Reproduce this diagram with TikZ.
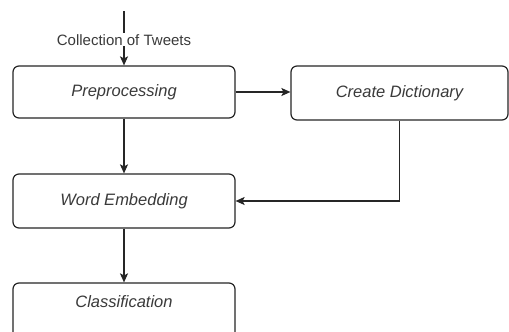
\documentclass[tikz,border=0pt]{standalone}
\usepackage{fontspec}
\setmainfont{Liberation Sans}
\usetikzlibrary{arrows.meta}
\definecolor{ink}{HTML}{262626}
\definecolor{txt}{HTML}{3A3A3A}
\begin{document}
\begin{tikzpicture}[x=1pt,y=1pt,
  box/.style={draw=ink, line width=1.2pt, rounded corners=6pt, inner sep=0pt,
    font=\fontsize{16.5}{18}\selectfont\itshape, text=txt},
  arr/.style={draw=ink, line width=1.2pt, -{Stealth[length=9pt,width=8pt,inset=2pt]}},
  lbl/.style={fill=white, inner sep=1pt, font=\fontsize{15}{17}\selectfont, text=txt}]
\clip (0,0) rectangle (509,-332);
\fill[white] (0,0) rectangle (509,-332);
\node[box, minimum width=222pt, minimum height=52pt] (pre) at (124,-92) {Preprocessing};
\node[box, minimum width=217pt, minimum height=54pt] (cd) at (399.5,-93) {Create Dictionary};
\node[box, minimum width=222pt, minimum height=54pt] (we) at (124,-201) {Word Embedding};
\node[box, minimum width=222pt, minimum height=57pt, text depth=0pt] (cl) at (124,-311.5) {};
\node[font=\fontsize{16.5}{18}\selectfont\itshape, text=txt] (cltext) at (124,-302) {Classification};
\coordinate (src) at (124,-11);
\draw[arr] (src) -- (pre.north) node[lbl, pos=0.53] (lab) {Collection of Tweets};
\draw[arr] (pre.east) -- (pre.east -| cd.west);
\draw[arr] (pre.south) -- (we.north);
\draw[arr] (cd.south) |- (we.east);
\draw[arr] (we.south) -- (cl.north);
\end{tikzpicture}
\end{document}
